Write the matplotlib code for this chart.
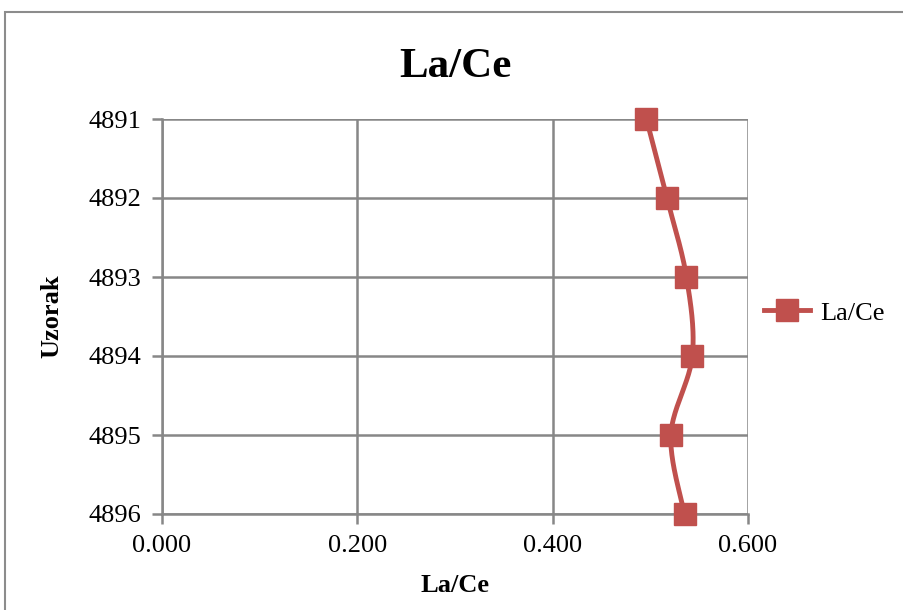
import numpy as np
import matplotlib
matplotlib.use('Agg')
import matplotlib.pyplot as plt
from matplotlib.patches import Rectangle

# podaci
uzorak = [4891, 4892, 4893, 4894, 4895, 4896]
la_ce = [0.496, 0.517, 0.537, 0.543, 0.521, 0.535]
x_ticks = [0.0, 0.2, 0.4, 0.6]

RED = '#C0504D'
GRID = '#878787'

plt.rcParams['font.family'] = ['Liberation Serif', 'DejaVu Serif']


def excel_smooth(xs, ys, sx, sy, n=40):
    # Excel-style smoothing: Bezier segmenti s kontrolnim tockama (tension 1/6), u pikselima
    px = np.asarray(xs) * sx
    py = np.asarray(ys) * sy
    pts = np.column_stack([px, py])
    out = []
    for i in range(len(pts) - 1):
        p0 = pts[max(i - 1, 0)]
        p1 = pts[i]
        p2 = pts[i + 1]
        p3 = pts[min(i + 2, len(pts) - 1)]
        c1 = p1 + (p2 - p0) / 6
        c2 = p2 - (p3 - p1) / 6
        t = np.linspace(0, 1, n)[:, None]
        seg = ((1 - t) ** 3) * p1 + 3 * ((1 - t) ** 2) * t * c1 + 3 * (1 - t) * t ** 2 * c2 + t ** 3 * p2
        out.append(seg)
    curve = np.vstack(out)
    return curve[:, 0] / sx, curve[:, 1] / sy


fig = plt.figure(figsize=(9.04, 6.10), dpi=100)
ax = fig.add_axes([162 / 904, 1 - 514 / 610, 586 / 904, 395 / 610])

# okvir grafikona
fig.patches.append(Rectangle((5 / 904, -0.1), 1.2, 1 - 12 / 610 + 0.1,
                             transform=fig.transFigure, fill=False,
                             edgecolor='#8c8c8c', linewidth=1.5))

cx, cy = excel_smooth(la_ce, uzorak, 586 / 0.6, 79)
ax.plot(cx, cy, color=RED, linewidth=3.5, solid_capstyle='round', zorder=3,
        clip_on=False)
ax.plot(la_ce, uzorak, linestyle='none', marker='s', markersize=16,
        color=RED, markeredgecolor=RED, zorder=4, clip_on=False)
# legenda
ax.plot([], [], color=RED, linewidth=3.5, marker='s', markersize=16, label='La/Ce')

ax.set_xlim(0, 0.6)
ax.set_ylim(4896, 4891)
ax.set_xticks(x_ticks)
ax.set_xticklabels([f'{v:.3f}' for v in x_ticks])
ax.set_yticks(uzorak)
ax.set_yticklabels([str(u) for u in uzorak])

ax.grid(True, color=GRID, linewidth=1.8)
ax.set_axisbelow(True)
for side in ['top', 'right']:
    ax.spines[side].set_visible(False)
for side in ['left', 'bottom']:
    ax.spines[side].set_color(GRID)
    ax.spines[side].set_linewidth(1.8)
ax.tick_params(axis='both', colors=GRID, length=7, width=1.8, labelsize=19,
               labelcolor='black', pad=8)

ax.set_title('La/Ce', fontsize=31, fontweight='bold', pad=30)
ax.set_xlabel('La/Ce', fontsize=19, fontweight='bold', labelpad=12)
ax.set_ylabel('Uzorak', fontsize=19, fontweight='bold', labelpad=18)

leg = fig.legend(loc='center left', bbox_to_anchor=(764 / 904, 1 - 313 / 610),
                 frameon=False, fontsize=19, handlelength=1.75,
                 handletextpad=0.38, borderaxespad=0, borderpad=0)

fig.savefig('out.png', dpi=100)
